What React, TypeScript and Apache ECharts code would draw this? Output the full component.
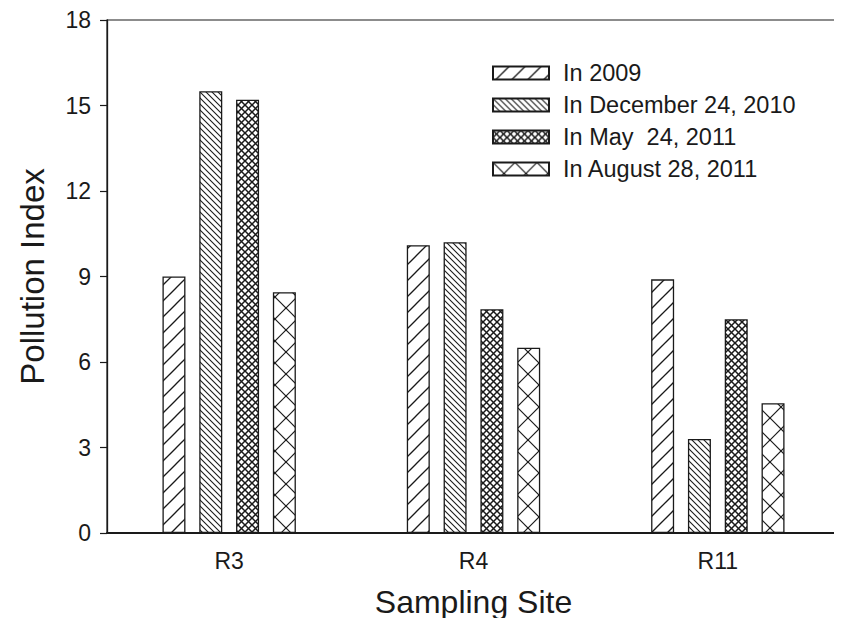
import React, { useEffect, useRef } from "react";
import * as echarts from "echarts";

const categories = ["R3", "R4", "R11"];
const seriesNames = ["In 2009", "In December 24, 2010", "In May  24, 2011", "In August 28, 2011"];
const values2009 = [9.0, 10.1, 8.9];
const valuesDec2010 = [15.5, 10.2, 3.3];
const valuesMay2011 = [15.2, 7.85, 7.5];
const valuesAug2011 = [8.45, 6.5, 4.55];
const yMin = 0;
const yMax = 18;
const yInterval = 3;
const xTitle = "Sampling Site";
const yTitle = "Pollution Index";

const INK = "#1a1a1a";
const FONT = "Liberation Sans, Arial, sans-serif";
const W = 842;
const H = 626;
const GRID_L = 107;
const GRID_R = 2;
const GRID_T = 20;
const GRID_B = 93;
const BAR_W = 23;
const BAR_GAP = 0.6;

type Drawer = (ctx: CanvasRenderingContext2D, w: number, h: number) => void;

function makeTile(w: number, h: number, lw: number, draw: Drawer) {
  const c = document.createElement("canvas");
  c.width = w;
  c.height = h;
  const ctx = c.getContext("2d")!;
  ctx.fillStyle = "#ffffff";
  ctx.fillRect(0, 0, w, h);
  ctx.strokeStyle = INK;
  ctx.lineWidth = lw;
  draw(ctx, w, h);
  return c;
}

const slash: Drawer = (ctx, w, h) => {
  for (let k = -1; k <= 1; k++) {
    ctx.beginPath();
    ctx.moveTo(-w, 2 * h + k * h);
    ctx.lineTo(2 * w, -h + k * h);
    ctx.stroke();
  }
};
const backslash: Drawer = (ctx, w, h) => {
  for (let k = -1; k <= 1; k++) {
    ctx.beginPath();
    ctx.moveTo(-w, -h + k * h);
    ctx.lineTo(2 * w, 2 * h + k * h);
    ctx.stroke();
  }
};
const cross: Drawer = (ctx, w, h) => {
  slash(ctx, w, h);
  backslash(ctx, w, h);
};

export default function App() {
  const ref = useRef<HTMLDivElement>(null);
  useEffect(() => {
    if (!ref.current) return;
    const chart = echarts.init(ref.current, undefined, { renderer: "svg" });

    // align the large X pattern with the last bar of every group
    const band = (W - GRID_L - GRID_R) / categories.length;
    const groupW = 4 * BAR_W + 3 * BAR_W * BAR_GAP;
    const lastCenter = GRID_L + band / 2 - groupW / 2 + 3 * BAR_W * (1 + BAR_GAP) + BAR_W / 2;
    const xTile = 22;
    const xPeriod = band / 11;
    const xScale = xPeriod / xTile;

    const patterns = [
      { image: makeTile(16, 16, 1.3, slash), repeat: "repeat" },
      { image: makeTile(6, 6, 1.1, backslash), repeat: "repeat" },
      { image: makeTile(7, 7, 1.5, cross), repeat: "repeat" },
      {
        image: makeTile(xTile, xTile, 1.2, cross),
        repeat: "repeat",
        x: lastCenter - xPeriod / 2,
        y: H - GRID_B - xTile / 2,
        scaleX: xScale,
        scaleY: 1,
      },
    ];
    const dataSets = [values2009, valuesDec2010, valuesMay2011, valuesAug2011];
    chart.setOption({
      animation: false,
      backgroundColor: "#ffffff",
      textStyle: { fontFamily: FONT },
      grid: {
        left: GRID_L,
        right: GRID_R,
        top: GRID_T,
        bottom: GRID_B,
        show: true,
        borderColor: INK,
        borderWidth: 1.2,
        outerBoundsMode: "none",
      },
      legend: {
        orient: "vertical",
        left: 487,
        top: 56,
        itemWidth: 56,
        itemHeight: 13,
        itemGap: 8,
        icon: "rect",
        data: seriesNames,
        textStyle: {
          fontSize: 23.5,
          fontFamily: FONT,
          color: INK,
          lineHeight: 24,
          padding: [0, 0, 0, 9],
        },
      },
      xAxis: {
        type: "category",
        data: categories,
        name: xTitle,
        nameLocation: "middle",
        nameGap: 53,
        nameTextStyle: { fontSize: 32, color: INK, fontFamily: FONT },
        axisLine: { lineStyle: { color: INK, width: 1.8 } },
        axisTick: { show: false },
        axisLabel: { fontSize: 23, color: INK, margin: 16, fontFamily: FONT },
      },
      yAxis: {
        type: "value",
        min: yMin,
        max: yMax,
        interval: yInterval,
        name: yTitle,
        nameLocation: "middle",
        nameGap: 58,
        nameTextStyle: { fontSize: 33, color: INK, fontFamily: FONT },
        axisLine: { show: true, lineStyle: { color: INK, width: 1.3 } },
        axisTick: { show: true, inside: false, length: 7, lineStyle: { color: INK, width: 1.2 } },
        axisLabel: { fontSize: 23, color: INK, margin: 16, fontFamily: FONT },
        splitLine: { show: false },
      },
      series: dataSets.map((d, i) => ({
        type: "bar",
        name: seriesNames[i],
        data: d,
        barWidth: BAR_W,
        barGap: `${BAR_GAP * 100}%`,
        itemStyle: { color: patterns[i], borderColor: INK, borderWidth: 1.3 },
        emphasis: { disabled: true },
      })),
    });
    return () => chart.dispose();
  }, []);
  return <div ref={ref} style={{ width: W, height: H, margin: -8 }} />;
}
